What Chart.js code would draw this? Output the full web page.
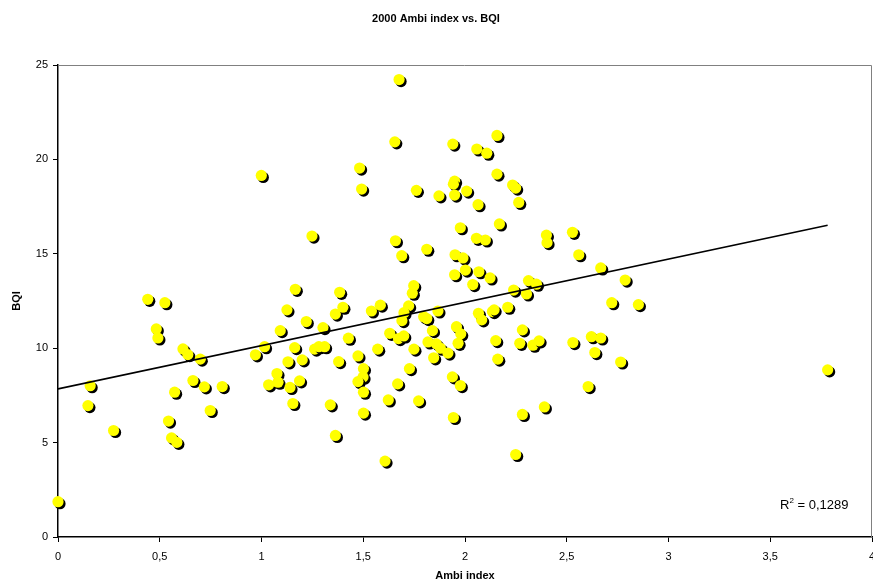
<!DOCTYPE html>
<html lang="en">
<head>
<meta charset="UTF-8">
<title>2000 Ambi index vs. BQI</title>
<script src="https://cdn.jsdelivr.net/npm/chart.js"></script>
<style>
  html, body { margin: 0; padding: 0; background: #fff; }
  canvas { display: block; }
</style>
</head>
<body>
<canvas id="chart" width="873" height="588"></canvas>
<script>
// Ambi index (x) and BQI (y) per station
const ambiIndex = [
  0.000, 0.147, 0.158, 0.273, 0.441, 0.525, 0.483, 0.491, 0.614, 0.638,
  0.699, 0.663, 0.573, 0.719, 0.807, 0.748, 0.543, 0.558, 0.584, 0.999,
  0.970, 1.015, 1.035, 1.076, 1.081, 1.140, 1.154, 1.130, 1.092, 1.125,
  1.166, 1.163, 1.200, 1.187, 1.220, 1.261, 1.282, 1.310, 1.302, 1.338,
  1.363, 1.363, 1.379, 1.384, 1.400, 1.248, 1.676, 1.655, 1.940, 2.058,
  2.107, 2.157, 1.482, 1.492, 1.761, 1.872, 1.949, 1.943, 1.949, 2.008,
  2.064, 2.157, 2.234, 2.249, 2.264, 1.658, 1.689, 1.812, 1.977, 2.056,
  2.100, 2.169, 1.951, 1.990, 1.949, 2.002, 2.068, 2.123, 2.038, 1.748,
  1.741, 2.400, 2.403, 2.528, 2.559, 2.312, 2.351, 2.239, 2.302, 2.667,
  2.787, 2.721, 2.852, 2.621, 2.667, 2.638, 2.765, 2.605, 3.782, 1.427,
  1.540, 1.584, 1.723, 1.700, 1.690, 1.797, 1.812, 1.867, 1.840, 1.630,
  1.673, 1.699, 1.474, 1.571, 1.749, 1.818, 1.859, 1.879, 1.916, 1.846,
  1.958, 1.979, 1.966, 1.727, 1.501, 1.499, 1.474, 1.501, 1.501, 1.669,
  1.623, 1.772, 1.607, 1.938, 1.977, 1.943, 2.066, 2.082, 2.135, 2.143,
  2.210, 2.151, 2.161, 2.282, 2.269, 2.334, 2.364, 2.530, 2.390, 2.282,
  2.249
];
const bqi = [
  1.87, 6.96, 8.01, 5.64, 12.59, 12.41, 11.02, 10.54, 9.96, 9.66,
  9.42, 8.29, 7.67, 7.95, 7.97, 6.70, 6.14, 5.25, 5.01, 19.15,
  9.65, 10.08, 8.06, 8.66, 8.20, 7.92, 7.07, 9.28, 10.93, 12.03,
  13.12, 10.03, 9.38, 8.27, 11.41, 9.95, 10.08, 10.08, 11.09, 7.00,
  5.38, 11.81, 9.29, 12.96, 12.17, 15.94, 24.23, 20.93, 20.81, 20.55,
  20.33, 21.27, 19.54, 18.43, 18.36, 18.07, 18.85, 18.69, 18.11, 18.32,
  17.60, 19.22, 18.64, 18.48, 17.72, 15.69, 14.90, 15.24, 16.38, 15.82,
  15.73, 16.58, 14.95, 14.78, 13.89, 14.14, 14.05, 13.72, 13.37, 13.31,
  12.91, 15.99, 15.59, 16.14, 14.95, 13.58, 13.39, 13.08, 12.87, 14.25,
  13.61, 12.41, 12.31, 10.61, 10.54, 9.77, 9.27, 7.97, 8.85, 10.53,
  11.97, 12.28, 12.24, 11.88, 11.46, 11.67, 11.57, 11.97, 10.93, 10.79,
  10.51, 10.65, 9.59, 9.95, 9.95, 10.33, 10.23, 10.00, 9.74, 9.49,
  11.14, 10.76, 10.26, 8.92, 8.92, 8.47, 8.23, 7.67, 6.56, 8.11,
  7.26, 7.21, 4.02, 8.48, 8.02, 6.33, 11.85, 11.50, 11.94, 12.03,
  12.17, 10.40, 9.42, 10.97, 10.26, 10.16, 10.39, 10.30, 6.89, 6.49,
  4.37
];
const chartTitle = '2000 Ambi index vs. BQI';
const xTitle = 'Ambi index';
const yTitle = 'BQI';
const r2Value = '0,1289';

const FONT = 'Arial, "Liberation Sans", sans-serif';

// linear trend (least squares) from the data itself
const n = ambiIndex.length;
const mx = ambiIndex.reduce((a, b) => a + b, 0) / n;
const my = bqi.reduce((a, b) => a + b, 0) / n;
let sxy = 0, sxx = 0;
for (let i = 0; i < n; i++) {
  sxy += (ambiIndex[i] - mx) * (bqi[i] - my);
  sxx += (ambiIndex[i] - mx) * (ambiIndex[i] - mx);
}
const slope = sxy / sxx;
const intercept = my - slope * mx;
const xMin = Math.min(...ambiIndex);
const xMax = Math.max(...ambiIndex);
const trendPoints = [xMin, xMax].map(x => ({ x: x, y: intercept + slope * x }));

const points = ambiIndex.map((x, i) => ({ x: x, y: bqi[i] }));

// plot area runs right up to the canvas edge (the "4" label gets cut, as in Excel)
const areaPlugin = {
  id: 'fullWidthArea',
  afterLayout(chart) {
    const a = chart.chartArea;
    const x = chart.scales.x;
    a.right = chart.width - 1;
    a.width = a.right - a.left;
    x.right = a.right;
    x.width = x.right - x.left;
    x.configure();
    x._labelItems = null;
    x._gridLineItems = null;
  }
};

// black drop shadow under the yellow markers
const shadowPlugin = {
  id: 'markerShadow',
  beforeDatasetDraw(chart, args) {
    if (chart.data.datasets[args.index].label !== 'BQI') return;
    const ctx = chart.ctx;
    ctx.save();
    ctx.shadowColor = '#000';
    ctx.shadowOffsetX = 2;
    ctx.shadowOffsetY = 2;
    ctx.shadowBlur = 0;
  },
  afterDatasetDraw(chart, args) {
    if (chart.data.datasets[args.index].label !== 'BQI') return;
    chart.ctx.restore();
  }
};

// grey plot-area border on top and right, R² label
const framePlugin = {
  id: 'frame',
  beforeDatasetsDraw(chart) {
    const { ctx, chartArea: a } = chart;
    ctx.save();
    ctx.strokeStyle = '#808080';
    ctx.lineWidth = 1;
    ctx.beginPath();
    ctx.moveTo(a.left, a.top + 0.5);
    ctx.lineTo(a.right - 0.5, a.top + 0.5);
    ctx.lineTo(a.right - 0.5, a.bottom);
    ctx.stroke();
    ctx.restore();
  },
  afterDraw(chart) {
    const { ctx } = chart;
    ctx.save();
    ctx.fillStyle = '#000';
    ctx.textBaseline = 'alphabetic';
    let x = 780, y = 509;
    ctx.font = '13px ' + FONT;
    ctx.fillText('R', x, y);
    x += ctx.measureText('R').width;
    ctx.font = '8px ' + FONT;
    ctx.fillText('2', x, y - 6);
    x += ctx.measureText('2').width;
    ctx.font = '13px ' + FONT;
    ctx.fillText(' = ' + r2Value, x, y);
    ctx.restore();
  }
};

new Chart(document.getElementById('chart'), {
  type: 'scatter',
  data: {
    datasets: [
      {
        label: 'Trend',
        type: 'line',
        data: trendPoints,
        borderColor: '#000',
        borderWidth: 1.6,
        pointRadius: 0,
        fill: false,
        order: 0
      },
      {
        label: 'BQI',
        data: points,
        backgroundColor: '#FFFF00',
        borderColor: '#FFFF00',
        borderWidth: 0,
        pointRadius: 5.6,
        pointHoverRadius: 5.6,
        clip: false,
        order: 1
      }
    ]
  },
  options: {
    responsive: false,
    animation: false,
    layout: { padding: { left: 0, right: 1, top: 0, bottom: 0 } },
    plugins: {
      legend: { display: false },
      tooltip: { enabled: false },
      title: {
        display: true,
        text: chartTitle,
        color: '#000',
        font: { family: FONT, size: 11, weight: 'bold' },
        padding: { top: 12, bottom: 39.8 }
      }
    },
    scales: {
      x: {
        type: 'linear',
        min: 0,
        max: 4,
        ticks: {
          stepSize: 0.5,
          color: '#000',
          font: { family: FONT, size: 11 },
          padding: 8,
          maxRotation: 0,
          autoSkip: false,
          callback: v => String(v).replace('.', ',')
        },
        grid: { display: true, drawOnChartArea: false, drawTicks: true, tickLength: 5, color: '#000' },
        border: { display: true, color: '#000', width: 1.5 },
        title: {
          display: true,
          text: xTitle,
          color: '#000',
          font: { family: FONT, size: 11, weight: 'bold' },
          padding: { top: 0, bottom: 5 }
        },
        afterFit: s => { s.height = 51; }
      },
      y: {
        type: 'linear',
        min: 0,
        max: 25,
        ticks: {
          stepSize: 5,
          color: '#000',
          font: { family: FONT, size: 11 },
          padding: 5
        },
        grid: { display: true, drawOnChartArea: false, drawTicks: true, tickLength: 5, color: '#000' },
        border: { display: true, color: '#000', width: 1.5 },
        title: {
          display: true,
          text: yTitle,
          color: '#000',
          font: { family: FONT, size: 11, weight: 'bold' },
          padding: { top: 10, bottom: 0 }
        },
        afterFit: s => { s.width = 58; }
      }
    }
  },
  plugins: [areaPlugin, shadowPlugin, framePlugin]
});
</script>
</body>
</html>
